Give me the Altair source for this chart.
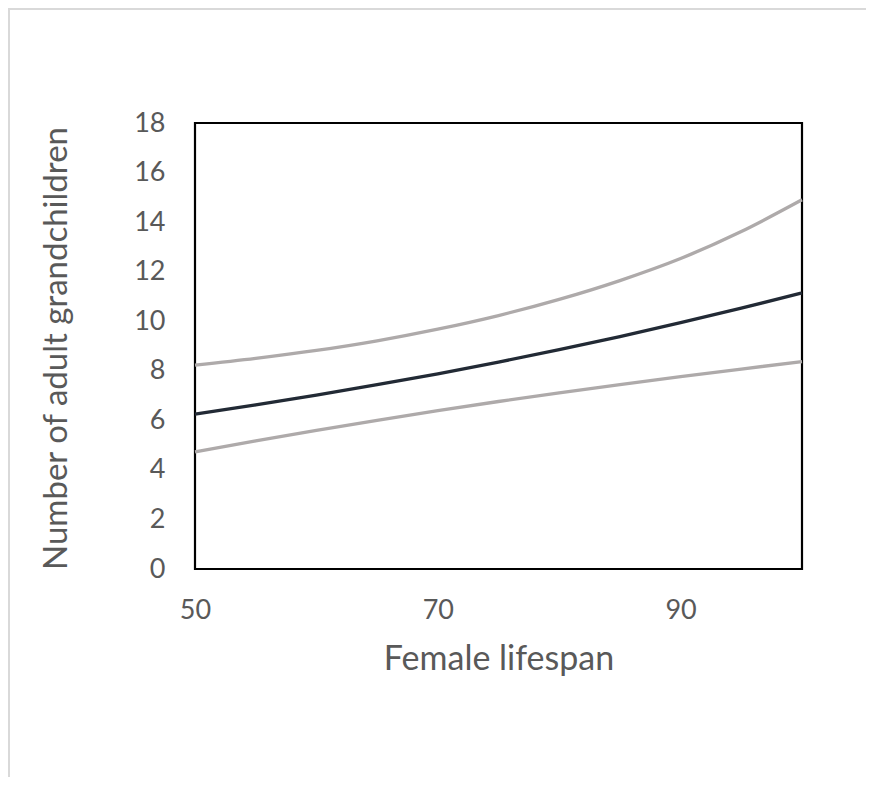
import altair as alt
import pandas as pd

lifespan = [50, 55, 60, 65, 70, 75, 80, 85, 90, 95, 100]
estimate = [6.25, 6.62, 7.02, 7.44, 7.88, 8.35, 8.85, 9.38, 9.94, 10.53, 11.14]
upper = [8.23, 8.50, 8.82, 9.21, 9.68, 10.23, 10.88, 11.64, 12.53, 13.62, 14.90]
lower = [4.73, 5.17, 5.59, 6.00, 6.39, 6.76, 7.11, 7.44, 7.76, 8.07, 8.37]

rows = []
for name, vals in [("upper", upper), ("lower", lower), ("estimate", estimate)]:
    for x, y in zip(lifespan, vals):
        rows.append({"lifespan": x, "value": y, "series": name})
df = pd.DataFrame(rows)

FONT = "Lato"
GREY_TXT = "#595959"

lines = alt.Chart(df).mark_line(strokeWidth=3.3, interpolate="monotone").encode(
    x=alt.X("lifespan:Q",
            scale=alt.Scale(domain=[50, 100], nice=False, zero=False),
            axis=alt.Axis(values=[50, 70, 90], title="Female lifespan",
                          grid=False, domain=False, ticks=False, tickSize=0,
                          labelFlush=False,
                          labelPadding=28, labelFontSize=27, labelColor=GREY_TXT,
                          labelFont=FONT, titleFont=FONT, titleFontSize=34,
                          titleFontWeight="normal", titleColor=GREY_TXT,
                          titleBaseline="alphabetic", titleY=100)),
    y=alt.Y("value:Q",
            scale=alt.Scale(domain=[0, 18], nice=False),
            axis=alt.Axis(values=list(range(0, 19, 2)), title="Number of adult grandchildren",
                          grid=False, domain=False, ticks=False, tickSize=0,
                          labelPadding=30, labelFontSize=27, labelColor=GREY_TXT,
                          labelFont=FONT, titleFont=FONT, titleFontSize=33,
                          titleFontWeight="normal", titleColor=GREY_TXT,
                          titleBaseline="alphabetic", titleX=-129, titleY=225)),
    color=alt.Color("series:N",
                    scale=alt.Scale(domain=["upper", "lower", "estimate"],
                                    range=["#AEAAAA", "#AEAAAA", "#222A35"]),
                    legend=None),
    detail="series:N",
    order=alt.Order("series:N"),
)

frame_top = alt.Chart(df).mark_rule(color="#D9D9D9", strokeWidth=1.5).encode(
    x=alt.value(-187), x2=alt.value(679), y=alt.value(-114))
frame_left = alt.Chart(df).mark_rule(color="#D9D9D9", strokeWidth=1.5).encode(
    x=alt.value(-186), y=alt.value(-114), y2=alt.value(662))

chart = alt.layer(frame_top, frame_left, lines).properties(
    width=607, height=446,
    autosize=alt.AutoSizeParams(type="none"),
    padding={"left": 187, "top": 115, "right": 64, "bottom": 208},
).configure(background="white").configure_view(stroke="black", strokeWidth=2.2)

chart.save("out.html", embed_options={"renderer": "svg", "actions": False})
